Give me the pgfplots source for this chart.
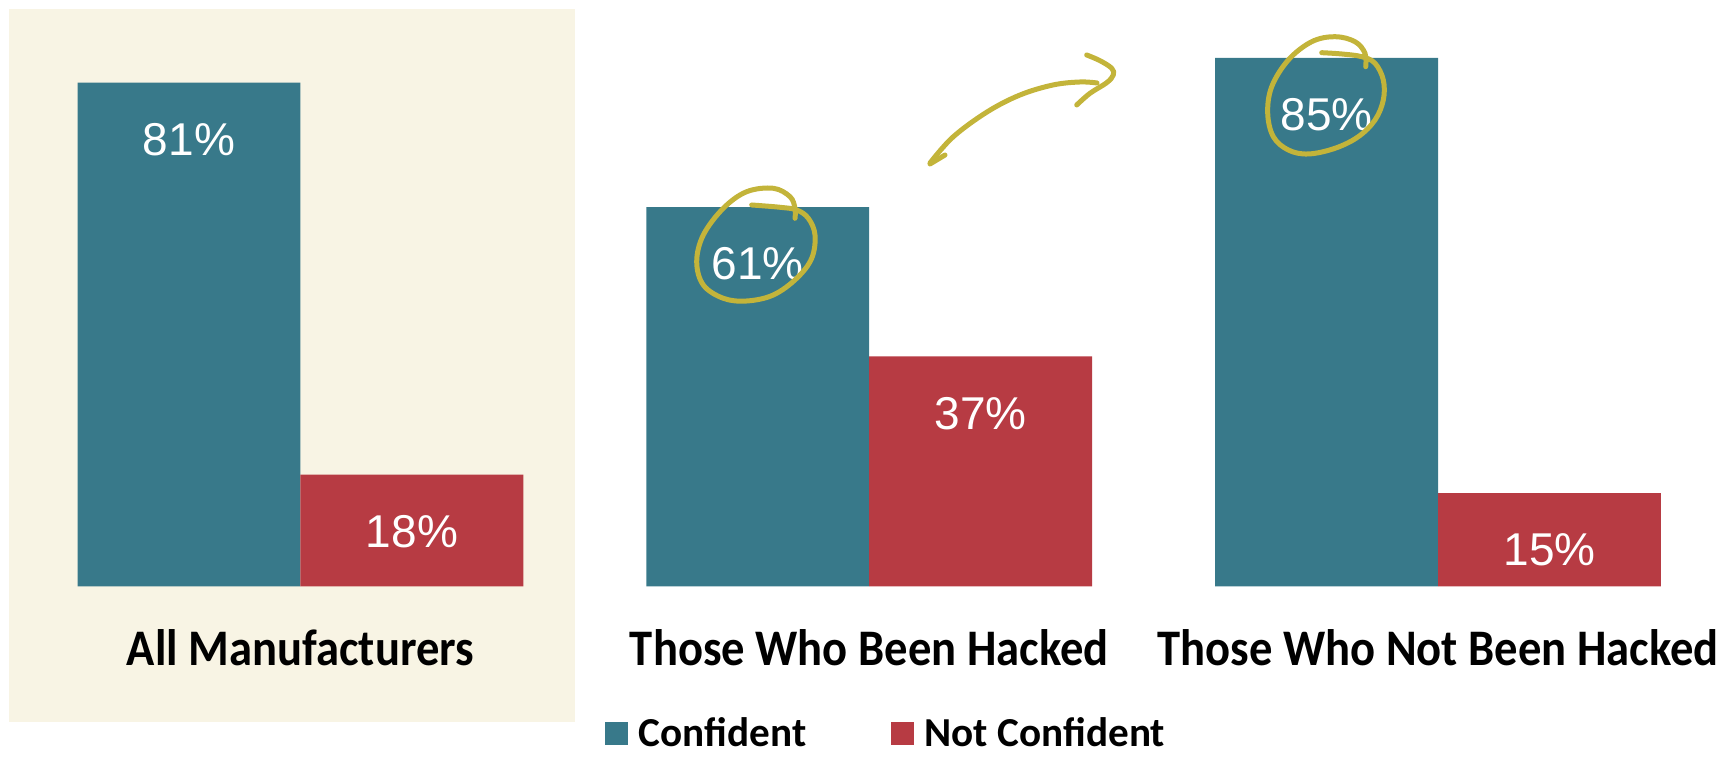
\documentclass[border=0pt]{standalone}
\usepackage{fontspec}
\usepackage{graphicx}
\usepackage{pgfplots}
\pgfplotsset{compat=1.18}
\newfontfamily\carlito{Carlito}
\newfontfamily\arialf{Liberation Sans}
\definecolor{cblue}{RGB}{56,121,138}
\definecolor{cred}{RGB}{183,59,67}
\definecolor{cbeige}{RGB}{248,244,228}
\definecolor{cyell}{RGB}{195,180,58}
\begin{document}
\begin{tikzpicture}
\useasboundingbox (0,0) rectangle (866pt,379pt);
\fill[cbeige] (4.5pt,18pt) rectangle (287.5pt,374.5pt);
\begin{axis}[
  at={(8.05pt,85.75pt)}, anchor=south west,
  scale only axis, width=853.125pt, height=279.9pt,
  xmin=-0.5, xmax=2.5, ymin=0, ymax=90,
  clip=false,
  axis line style={draw=none},
  tick style={draw=none},
  ytick=\empty,
  xtick={0,1,2},
  xticklabels={{\scalebox{1}[1.1]{All Manufacturers}},{\scalebox{1}[1.1]{Those Who Been Hacked}},{\scalebox{1}[1.1]{Those Who Not Been Hacked}}},
  xticklabel style={font=\carlito\bfseries\fontsize{23.3}{28}\selectfont, anchor=base, yshift=-35pt, inner sep=0pt},
  ybar, bar width=0.392,
  /pgf/number format/assume math mode=true,
  nodes near coords={\pgfmathprintnumber{\pgfplotspointmeta}\%},
  nodes near coords align={center},
  every node near coord/.append style={font=\arialf\fontsize{23}{28}\selectfont, text=white, anchor=center, yshift=-28.5pt},
  legend columns=2,
  legend style={draw=none, fill=none, inner sep=0pt, at={(0.3451,-0.2626)}, anchor=west,
    font=\carlito\bfseries\fontsize{20.6}{24}\selectfont,
    /tikz/every odd column/.append style={column sep=3.2pt},
    /tikz/every even column/.append style={column sep=40.5pt}},
  legend image code/.code={\fill[#1] (0pt,-5.75pt) rectangle (11.5pt,5.75pt);},
]
\addplot[fill=cblue, draw=none, bar shift=-0.196] coordinates {(0,81) (1,61) (2,85)};
\addplot[fill=cred, draw=none, bar shift=0.196] coordinates {(0,18) (1,37) (2,15)};
\legend{Confident,Not Confident}
\end{axis}
\begin{scope}[x=0.5pt, y=-0.5pt, shift={(0pt,379pt)}, draw=cyell, line width=2.5pt, line cap=round, line join=round]
  % arrow
  \draw plot[smooth, tension=0.6] coordinates {(930,163) (953,137) (987,112) (1020,95) (1053,85) (1080,82) (1097,83)};
  \draw (930,164) -- (945,155);
  \draw plot[smooth, tension=0.6] coordinates {(1086.7,55) (1100,60.7) (1111.7,68.3) (1113.3,75) (1106.7,82.7) (1090,93.3) (1076.7,105)};
  % circle 61
  \draw plot[smooth, tension=0.6] coordinates {(751.7,205) (780,207.3) (796.7,210) (808.3,218.3) (815,235) (811.7,258.3) (796.7,278.3) (773.3,295) (746.7,301) (723.3,298.3) (703.3,285) (696.7,261.7) (703.3,235) (723.3,208.3) (746.7,191.7) (773.3,188.3) (790,196.7) (795,208.3) (795,218.3)};
  % circle 85
  \draw plot[smooth, tension=0.6] coordinates {(1321.7,52.7) (1341.7,54) (1361.7,56.7) (1375,63.3) (1383.3,80) (1383.3,100) (1375,120) (1358.3,136.7) (1335,148.3) (1308.3,154) (1288.3,150) (1273.3,136.7) (1267.7,113.3) (1271.7,86.7) (1288.3,60) (1311.7,41.7) (1335,36.7) (1355,41.7) (1365,53.3) (1365.7,66.7)};
\end{scope}
\end{tikzpicture}
\end{document}
